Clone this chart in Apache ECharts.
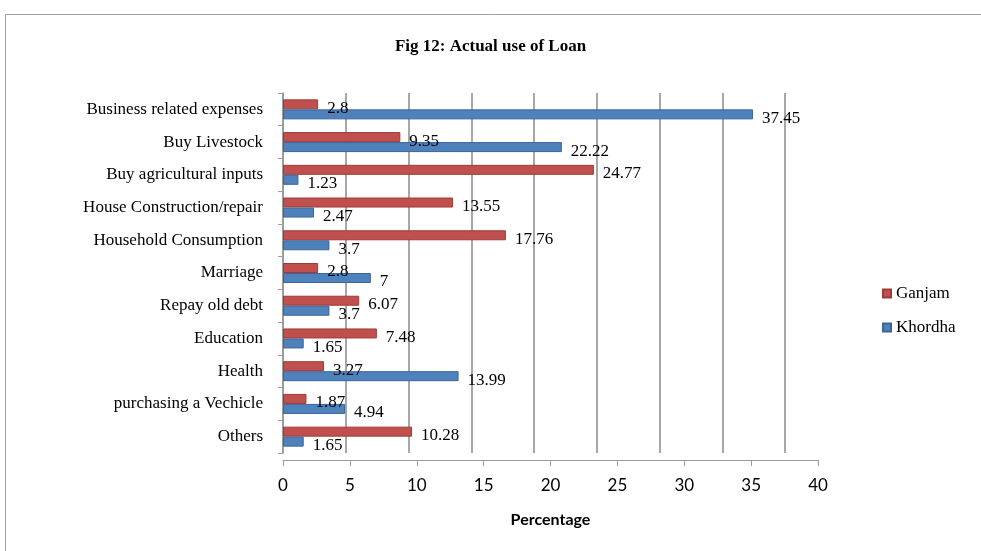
<!DOCTYPE html>
<html><head><meta charset="utf-8">
<script src="https://cdn.jsdelivr.net/npm/echarts@6/dist/echarts.min.js"></script>
<style>html,body{margin:0;padding:0;background:#fff}#c{width:981px;height:551px}</style>
</head><body><div id="c"></div>
<script>
const categories = ["Business related expenses","Buy Livestock","Buy agricultural inputs","House Construction/repair","Household Consumption","Marriage","Repay old debt","Education","Health","purchasing a Vechicle","Others"];
const ganjam = [2.8, 9.35, 24.77, 13.55, 17.76, 2.8, 6.07, 7.48, 3.27, 1.87, 10.28];
const khordha = [37.45, 22.22, 1.23, 2.47, 3.7, 7, 3.7, 1.65, 13.99, 4.94, 1.65];
const xTicks = [0,5,10,15,20,25,30,35,40];

const chart = echarts.init(document.getElementById('c'));
const serif = '"Liberation Serif","Times New Roman",serif';
const lbl = {show:true, position:'right', distance:9, offset:[0,4], color:'#000', fontFamily:serif, fontSize:17};
chart.setOption({
  animation:false,
  backgroundColor:'#fff',
  title:{text:'Fig 12: Actual use of Loan', left:'center', top:33, textStyle:{fontFamily:serif, fontWeight:'bold', fontSize:17, color:'#000'}},
  legend:{orient:'vertical', left:877, top:280, itemWidth:8, itemHeight:8, itemGap:17, icon:'rect',
    textStyle:{fontFamily:serif, fontSize:17, color:'#000'}, data:['Ganjam','Khordha']},
  graphic:[{type:'rect', shape:{x:5.5,y:14.5,width:990,height:560}, style:{fill:'none', stroke:'#a0a0a0', lineWidth:1}, silent:true}],
  grid:[
    {left:283, width:502, top:93, height:360},
    {left:283, width:535, top:93, height:367}
  ],
  xAxis:[
    {gridIndex:0, type:'value', min:0, max:40, interval:5, axisLabel:{show:false}, axisLine:{show:false}, axisTick:{show:false},
      splitLine:{show:true, lineStyle:{color:'#8a8a8a', width:1.5}}},
    {gridIndex:1, type:'value', min:0, max:40, interval:5, axisLine:{show:true, lineStyle:{color:'#9a9a9a'}}, axisTick:{show:true, length:6, lineStyle:{color:'#9a9a9a'}},
      splitLine:{show:false}, axisLabel:{margin:17, color:'#000', fontFamily:'Lato, "Open Sans", sans-serif', fontSize:17,
        formatter:v=>xTicks.includes(v)?String(v):''},
      name:'Percentage', nameLocation:'middle', nameGap:52, nameTextStyle:{fontFamily:'Lato, "Open Sans", sans-serif', fontWeight:'bold', fontSize:16, color:'#000'}}
  ],
  yAxis:[
    {gridIndex:0, type:'category', inverse:true, data:categories, axisLine:{show:true, lineStyle:{color:'#9a9a9a', width:1.5}},
      axisTick:{show:true, length:5, lineStyle:{color:'#9a9a9a'}}, axisLabel:{margin:20, color:'#000', fontFamily:serif, fontSize:17}},
    {gridIndex:1, type:'category', data:categories, show:false}
  ],
  series:[
    {name:'Ganjam', type:'bar', xAxisIndex:0, yAxisIndex:0, data:ganjam, barWidth:10, barGap:'0%',
      itemStyle:{color:'#C0504D', borderColor:'#9e3a37', borderWidth:1}, label:lbl},
    {name:'Khordha', type:'bar', xAxisIndex:0, yAxisIndex:0, data:khordha, barWidth:10, barGap:'0%',
      itemStyle:{color:'#4F81BD', borderColor:'#3a6596', borderWidth:1}, label:lbl}
  ]
});
</script></body></html>
